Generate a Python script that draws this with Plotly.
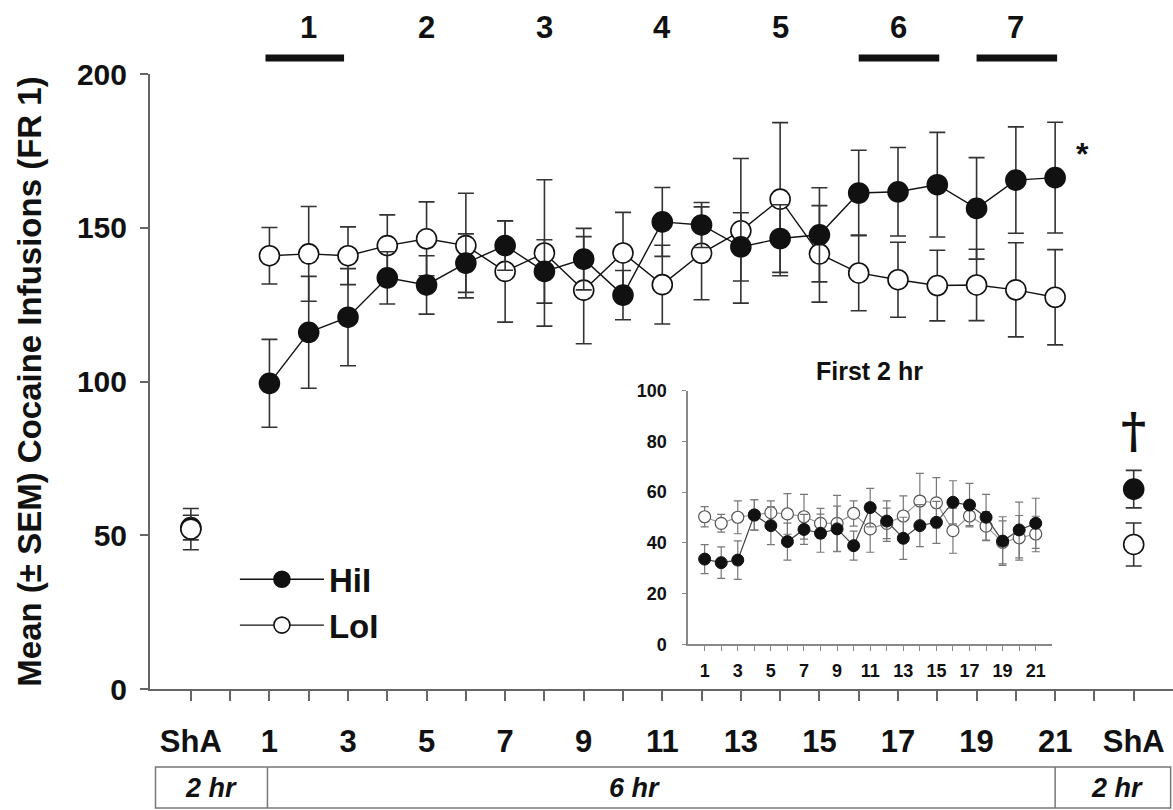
import plotly.graph_objects as go

# ---------------- data ----------------
days = list(range(1, 22))
hiI_mean = [99.4, 116.0, 120.9, 133.7, 131.4, 138.5, 144.2, 135.8, 139.8, 128.1, 151.9,
            150.9, 143.8, 146.5, 147.7, 161.3, 161.7, 164.0, 156.3, 165.5, 166.3]
hiI_sem = [14.3, 18.2, 15.8, 8.5, 9.5, 9.5, 8.0, 10.3, 10.0, 8.0, 11.2,
           7.3, 11.1, 11.0, 15.3, 13.9, 14.4, 17.0, 16.5, 17.3, 18.0]
loI_mean = [140.9, 141.5, 140.9, 144.2, 146.4, 144.2, 135.8, 141.8, 129.7, 141.8, 131.5,
            141.7, 149.0, 159.3, 141.5, 135.3, 133.1, 131.2, 131.4, 129.8, 127.4]
loI_sem = [9.2, 15.4, 9.4, 10.0, 12.0, 17.0, 16.5, 23.8, 17.4, 13.2, 12.8,
           15.1, 23.5, 24.9, 15.7, 12.3, 12.2, 11.5, 11.6, 15.3, 15.5]

sha_pos = [-1, 23]
hiI_sha = [52.5, 65.0]
hiI_sha_sem = [4.0, 6.1]
loI_sha = [52.0, 47.0]
loI_sha_sem = [6.7, 7.0]

inset_hi = [33.6, 32.2, 33.2, 51.0, 46.8, 40.5, 45.3, 43.8, 45.5, 38.9, 53.9,
            48.6, 41.8, 46.8, 48.1, 56.0, 54.9, 50.1, 40.7, 45.1, 47.7]
inset_hi_sem = [5.7, 6.2, 7.6, 6.0, 7.5, 7.3, 5.9, 7.5, 9.0, 5.7, 7.6,
                8.0, 8.3, 8.3, 8.3, 8.5, 8.6, 9.0, 9.6, 11.0, 9.9]
inset_lo = [50.3, 47.7, 50.1, 51.0, 51.9, 51.4, 50.3, 47.7, 47.7, 51.6, 45.5,
            47.7, 50.6, 56.5, 55.8, 44.8, 50.6, 46.6, 40.2, 42.0, 43.5]
inset_lo_sem = [4.0, 3.5, 6.5, 6.0, 4.7, 8.0, 8.8, 5.9, 11.0, 5.0, 9.2,
                6.0, 7.9, 10.9, 9.9, 8.9, 3.8, 5.7, 8.5, 8.8, 7.0]

x_tick_vals = list(range(-1, 24))
x_tick_labels = ["ShA", ""] + [str(d) if d % 2 == 1 else "" for d in days] + ["", "ShA"]
y_tick_vals = [0, 50, 100, 150, 200]
inset_x_ticks = days
inset_x_labels = [str(d) if d % 2 == 1 else "" for d in days]
inset_y_ticks = [0, 20, 40, 60, 80, 100]

phase_labels = ["1", "2", "3", "4", "5", "6", "7"]
phase_centers = [2, 5, 8, 11, 14, 17, 20]
phase_bars = [(0.9, 2.9), (16.0, 18.05), (19.0, 21.05)]

session_labels = ["2 hr", "6 hr", "2 hr"]
session_label_x = [-0.49, 10.3, 22.57]
session_edges = [-1.9, 0.95, 21.0, 23.94]

FONT = "Liberation Sans"
BLACK = "#111111"
AXC = "#666666"

fig = go.Figure()

# main series
fig.add_trace(go.Scatter(
    x=days, y=loI_mean, name="LoI", mode="lines+markers",
    line=dict(color=BLACK, width=1.4),
    marker=dict(symbol="circle", size=20, color="white", line=dict(color=BLACK, width=1.6)),
    error_y=dict(type="data", array=loI_sem, visible=True, color="#333333", thickness=1.6, width=8),
    showlegend=True, legendrank=2))
fig.add_trace(go.Scatter(
    x=days, y=hiI_mean, name="HiI", mode="lines+markers",
    line=dict(color=BLACK, width=1.4),
    marker=dict(symbol="circle", size=20, color=BLACK, line=dict(color=BLACK, width=1.6)),
    error_y=dict(type="data", array=hiI_sem, visible=True, color="#333333", thickness=1.6, width=8),
    showlegend=True, legendrank=1))
# ShA sessions
fig.add_trace(go.Scatter(
    x=sha_pos, y=hiI_sha, mode="markers", showlegend=False,
    marker=dict(symbol="circle", size=20, color=BLACK, line=dict(color=BLACK, width=1.6)),
    error_y=dict(type="data", array=hiI_sha_sem, visible=True, color="#333333", thickness=1.6, width=8)))
fig.add_trace(go.Scatter(
    x=sha_pos, y=loI_sha, mode="markers", showlegend=False,
    marker=dict(symbol="circle", size=20, color="white", line=dict(color=BLACK, width=1.6)),
    error_y=dict(type="data", array=loI_sha_sem, visible=True, color="#333333", thickness=1.6, width=8)))

# inset
fig.add_trace(go.Scatter(
    x=days, y=inset_lo, mode="lines+markers", showlegend=False, xaxis="x2", yaxis="y2",
    line=dict(color="#9a9a9a", width=1.2),
    marker=dict(symbol="circle", size=12, color="white", line=dict(color="#555555", width=1.2)),
    error_y=dict(type="data", array=inset_lo_sem, visible=True, color="#777777", thickness=1.2, width=4)))
fig.add_trace(go.Scatter(
    x=days, y=inset_hi, mode="lines+markers", showlegend=False, xaxis="x2", yaxis="y2",
    line=dict(color="#444444", width=1.2),
    marker=dict(symbol="circle", size=12, color=BLACK, line=dict(color=BLACK, width=1)),
    error_y=dict(type="data", array=inset_hi_sem, visible=True, color="#777777", thickness=1.2, width=4)))

annotations = []
for lab, cx in zip(phase_labels, phase_centers):
    annotations.append(dict(x=cx, y=1.0748, xref="x", yref="paper", text="<b>%s</b>" % lab,
                            xanchor="center", yanchor="middle",
                            showarrow=False, font=dict(size=31, color=BLACK, family=FONT)))
for lab, lx in zip(session_labels, session_label_x):
    annotations.append(dict(x=lx, y=-0.161, xref="x", yref="paper", text="<b><i>%s</i></b>" % lab,
                            xanchor="center", yanchor="middle",
                            showarrow=False, font=dict(size=27, color=BLACK, family=FONT)))
annotations.append(dict(x=21.7, y=174, xref="x", yref="y", text="<b>*</b>", showarrow=False,
                        xanchor="center", yanchor="middle",
                        font=dict(size=32, color=BLACK, family=FONT)))
annotations.append(dict(x=23, y=84, xref="x", yref="y", text="<b>†</b>", showarrow=False,
                        xanchor="center", yanchor="middle",
                        font=dict(size=48, color=BLACK, family="DejaVu Serif")))
annotations.append(dict(x=0.7038, y=0.517, xref="paper", yref="paper", text="<b>First 2 hr</b>",
                        xanchor="center", yanchor="middle",
                        showarrow=False, font=dict(size=25, color=BLACK, family=FONT)))

shapes = []
for x0, x1 in phase_bars:
    shapes.append(dict(type="line", xref="x", yref="paper", x0=x0, x1=x1, y0=1.026, y1=1.026,
                       line=dict(color=BLACK, width=7)))
shapes.append(dict(type="rect", xref="x", yref="paper", x0=session_edges[0], x1=session_edges[-1],
                   y0=-0.1935, y1=-0.127, line=dict(color="#777777", width=1.5)))
for xe in session_edges[1:-1]:
    shapes.append(dict(type="line", xref="x", yref="paper", x0=xe, x1=xe, y0=-0.1935, y1=-0.127,
                       line=dict(color="#777777", width=1.5)))

fig.update_layout(
    width=1173, height=810,
    margin=dict(l=150, r=0, t=74, b=121, autoexpand=False),
    paper_bgcolor="white", plot_bgcolor="white",
    font=dict(family=FONT, color=BLACK),
    xaxis=dict(domain=[0, 1], range=[-2.04, 24.0], tickvals=x_tick_vals, ticktext=x_tick_labels,
               ticks="outside", ticklen=10, tickwidth=1.5, tickcolor=AXC, automargin=False,
               showline=True, linecolor=AXC, linewidth=2, showgrid=False, zeroline=False,
               tickfont=dict(size=31, family=FONT, color=BLACK, weight="bold"),
               ticklabelstandoff=14),
    yaxis=dict(domain=[0, 1], range=[0, 200], tickvals=y_tick_vals, automargin=False,
               ticks="outside", ticklen=8, tickwidth=1.5, tickcolor=AXC,
               showline=True, linecolor=AXC, linewidth=2, showgrid=False, zeroline=False,
               tickfont=dict(size=30, family=FONT, color=BLACK, weight="bold"),
               ticklabelstandoff=7,
               title=dict(text="<b>Mean (± SEM) Cocaine Infusions (FR 1)</b>",
                          font=dict(size=33, family=FONT, color=BLACK), standoff=25)),
    xaxis2=dict(domain=[0.526, 0.882], anchor="y2", range=[0, 22], tickvals=inset_x_ticks,
                ticktext=inset_x_labels, ticks="outside", ticklen=5, tickwidth=1, tickcolor="#888888",
                showline=True, linecolor="#888888", linewidth=1.5, showgrid=False, zeroline=False,
                tickfont=dict(size=18, family=FONT, color=BLACK, weight="bold"),
                ticklabelstandoff=4, automargin=False),
    yaxis2=dict(domain=[0.0727, 0.485], anchor="x2", range=[0, 100], tickvals=inset_y_ticks,
                ticks="outside", ticklen=4, tickwidth=1, tickcolor="#888888",
                showline=True, linecolor="#888888", linewidth=1.5, showgrid=False, zeroline=False,
                tickfont=dict(size=18, family=FONT, color=BLACK, weight="bold"),
                ticklabelstandoff=12, automargin=False),
    legend=dict(x=0.083, y=0.224, xanchor="left", yanchor="top", bgcolor="rgba(0,0,0,0)",
                font=dict(size=33, family=FONT, color=BLACK, weight="bold"), itemwidth=84,
                traceorder="normal"),
    annotations=annotations, shapes=shapes,
)

fig.write_html("out.html", config={"displayModeBar": False},
               post_script="document.body.style.margin='0px';")
